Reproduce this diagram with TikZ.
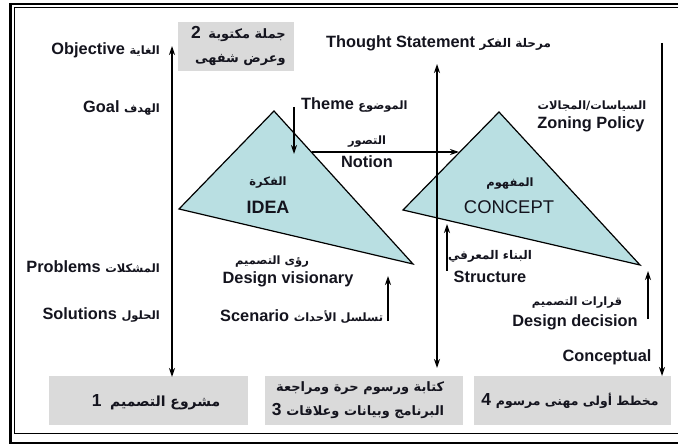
\documentclass[tikz,border=0pt]{standalone}
\usepackage{fontspec}
\setmainfont{Liberation Sans}
\newfontfamily\arfont[Script=Arabic]{DejaVu Sans}
\TeXXeTstate=1
\usetikzlibrary{arrows.meta}
\newcommand{\AR}[2][11.5]{{\fontsize{#1}{#1}\selectfont\arfont\bfseries\beginR #2\endR}}
\definecolor{trifill}{RGB}{185,223,226}
\definecolor{boxgray}{RGB}{218,218,218}
\definecolor{ink}{RGB}{20,20,30}
\tikzset{
  en/.style={font=\fontsize{16.4}{19}\selectfont\bfseries, text=ink, inner sep=0pt},
  big/.style={font=\fontsize{18}{20}\selectfont\bfseries, text=ink, inner sep=0pt},
  bigreg/.style={font=\fontsize{18.5}{20}\selectfont, text=ink, inner sep=0pt},
  ar/.style={text=ink, inner sep=0pt},
  graybox/.style={fill=boxgray, draw=none, minimum height=49bp, inner sep=0pt},
  boxtext/.style={font=\fontsize{17.5}{24}\selectfont\bfseries, text=ink, inner sep=0pt},
  tri/.style={fill=trifill, draw=black, line width=1.2bp, line join=miter},
  axis/.style={draw=black, line width=1.6bp},
  arr/.style={draw=black, line width=1.8bp},
  tip/.style={-{Stealth[length=9bp,width=6bp]}},
  tips/.style={{Stealth[length=9bp,width=6bp]}-{Stealth[length=9bp,width=6bp]}}
}
\begin{document}
\begin{tikzpicture}[x=1bp,y=-1bp]
\useasboundingbox (0,0) rectangle (678,448);
\clip (0,0) rectangle (678,448);
\fill[white] (0,0) rectangle (678,448);
% frame
\draw[line width=2.6bp] (10.7,4) rectangle (700,442.8);
\draw[line width=1bp] (14.7,8) rectangle (696,433.5);

% gray boxes
\node[graybox, minimum width=116bp] (b2) at (236,46.5) {};
\node[graybox, minimum width=199bp] (b1) at (148.5,400.5) {};
\node[graybox, minimum width=198bp] (b3) at (364,400.5) {};
\node[graybox, minimum width=197bp] (b4) at (572.5,400.5) {};

\node[boxtext, align=right, anchor=east] (t2) at (286,46) {2\, \AR[13]{جملة مكتوبة}\\ \AR[13]{وعرض شفهى}};
\node[boxtext, anchor=center] (t1) at (156,402) {1\enspace\AR[14]{مشروع التصميم}};
\node[boxtext, align=right, anchor=center] (t3) at (358,400) {\AR[13]{كتابة ورسوم حرة ومراجعة}\\ 3 \AR[13]{البرنامج وبيانات وعلاقات}};
\node[boxtext, anchor=center] (t4) at (570,401) {4 \AR[12.5]{مخطط أولى مهنى مرسوم}};

% triangles
\coordinate (ia) at (274,111);
\coordinate (ib) at (179,209);
\coordinate (ic) at (413,264);
\coordinate (ca) at (499,112);
\coordinate (cb) at (403,210);
\coordinate (cc) at (640,265);
\draw[tri] (ia) -- (ib) -- (ic) -- cycle;
\draw[tri] (ca) -- (cb) -- (cc) -- cycle;

% axes
\coordinate (l1) at (172,46);
\coordinate (l2) at (172,377);
\coordinate (m1) at (437,64);
\coordinate (m2) at (437,368);
\coordinate (r1) at (662,43);
\coordinate (r2) at (662,376);
\draw[axis, tips] (l1) -- (l2);
\draw[axis, tips] (m1) -- (m2);
\draw[axis, tip] (r1) -- (r2);

% small arrows
\coordinate (th1) at (294,107);
\coordinate (th2) at (294,154);
\coordinate (n1) at (312,152);
\coordinate (n2) at (459,152);
\coordinate (dv1) at (388,321);
\coordinate (dv2) at (388,276);
\coordinate (s1) at (447,271);
\coordinate (s2) at (447,224);
\coordinate (dd1) at (648,319);
\coordinate (dd2) at (648,271);
\draw[arr, tip] (th1) -- (th2);
\draw[line width=1.4bp, tip] (n1) -- (n2);
\draw[arr, tip] (dv1) -- (dv2);
\draw[arr, tip] (s1) -- (s2);
\draw[arr, tip] (dd1) -- (dd2);

% left labels
\node[en, anchor=east] (obj) at (160,50) {Objective \AR{الغاية}};
\node[en, anchor=east] (goal) at (160,108) {Goal \AR{الهدف}};
\node[en, anchor=east] (prob) at (160,267) {Problems \AR{المشكلات}};
\node[en, anchor=east] (sol) at (160,315) {Solutions \AR{الحلول}};

% top labels
\node[en, anchor=west] (thought) at (326,43) {Thought Statement \AR[12]{مرحلة الفكر}};
\node[en, anchor=west] (theme) at (301,105) {Theme \AR{الموضوع}};
\node[ar] (notionar) at (367,142) {\AR{التصور}};
\node[en] (notion) at (367,162) {Notion};
\node[ar] (zoningar) at (592,106) {\AR{السياسات/المجالات}};
\node[en] (zoning) at (591,124) {Zoning Policy};

% triangle labels
\node[ar] (ideaar) at (268,183) {\AR{الفكرة}};
\node[big] (idea) at (268,207) {IDEA};
\node[ar] (conceptar) at (510,184) {\AR{المفهوم}};
\node[bigreg] (concept) at (509,207) {CONCEPT};

% lower labels
\node[ar] (dvar) at (272,262) {\AR{رؤى التصميم}};
\node[en] (dv) at (288,279) {Design visionary};
\node[en, anchor=west] (scen) at (220,317) {Scenario \AR{تسلسل الأحداث}};
\node[ar] (structar) at (490,256) {\AR[12]{البناء المعرفي}};
\node[en] (struct) at (490,277) {Structure};
\node[ar] (ddar) at (577,303) {\AR{قرارات التصميم}};
\node[en] (dd) at (575,322) {Design decision};
\node[en] (concl) at (607,357) {Conceptual};
\end{tikzpicture}
\end{document}
